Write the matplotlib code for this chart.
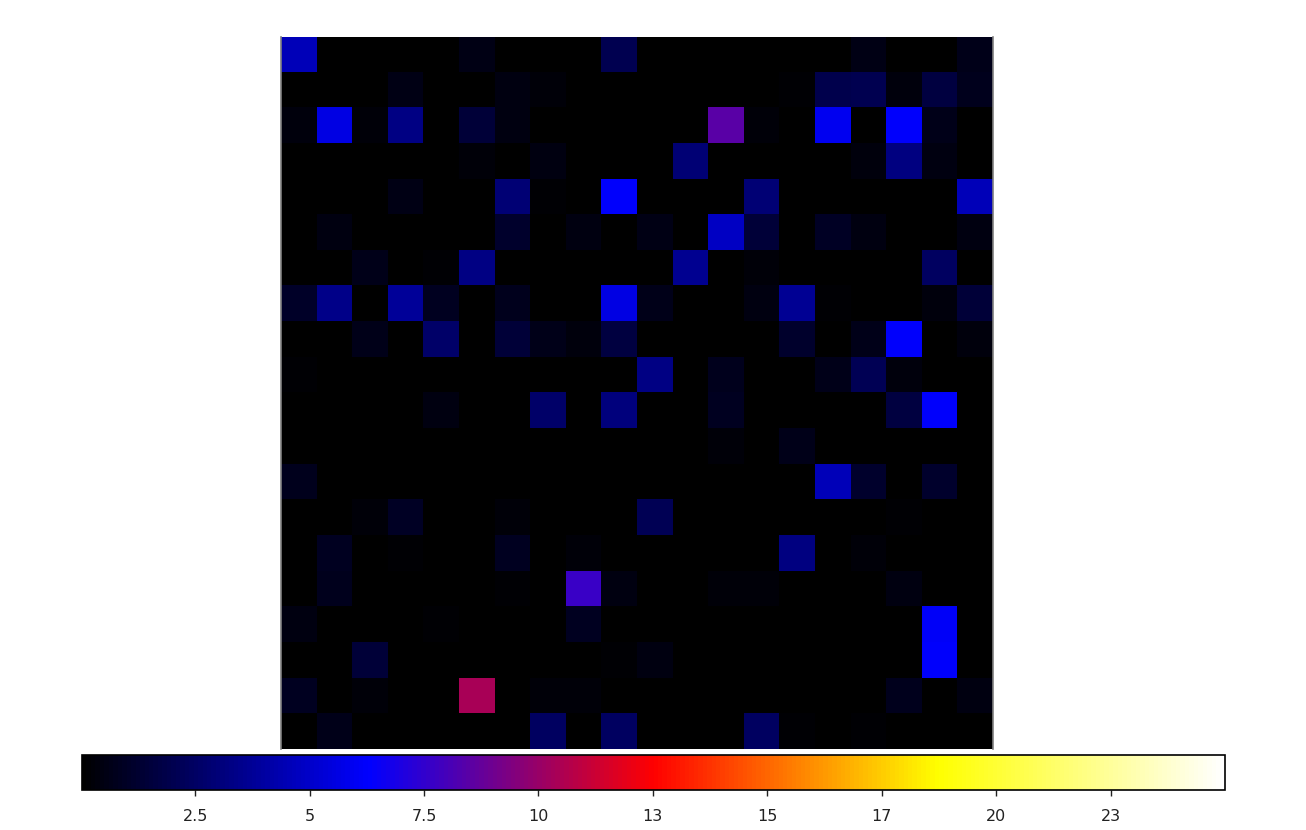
import matplotlib
matplotlib.use("Agg")
import matplotlib.pyplot as plt
from matplotlib.colors import LinearSegmentedColormap
import numpy as np

row_00 = [4.6,0,0,0,0,0.6,0,0,0,2.0,0,0,0,0,0,0,0.6,0,0,0.7]
row_01 = [0,0.1,0,0.55,0,0,0.5,0.25,0,0,0,0,0,0,0.2,1.9,2.0,0.35,1.6,0.8]
row_02 = [0.35,5.6,0.3,3.3,0,1.4,0.5,0,0,0,0,0,8.45,0.3,0,5.9,0.1,6.2,0.7,0]
row_03 = [0,0,0,0,0,0.25,0,0.45,0,0,0,2.9,0,0,0,0,0.35,3.2,0.45,0]
row_04 = [0,0.05,0.1,0.6,0,0,2.9,0.2,0,6.25,0,0,0,2.9,0,0,0,0,0,4.6]
row_05 = [0,0.45,0,0,0,0,1.2,0,0.45,0,0.6,0,4.9,1.4,0,1.0,0.5,0,0,0.5]
row_06 = [0,0,0.7,0,0.2,3.3,0,0,0,0,0,3.6,0.1,0.25,0.1,0,0,0,2.4,0]
row_07 = [1.1,3.4,0,3.8,0.9,0,0.8,0,0,5.6,0.7,0,0,0.45,3.7,0.2,0,0,0.35,1.4]
row_08 = [0,0,0.7,0,2.6,0,1.4,0.7,0.35,1.6,0,0,0,0,1.2,0,0.7,6.25,0,0.35]
row_09 = [0.2,0,0,0,0,0,0,0,0,0,3.3,0,0.8,0,0,0.7,2.1,0.35,0,0]
row_10 = [0,0,0,0,0.45,0,0,2.6,0,3.1,0,0,0.9,0,0,0,0,1.6,6.25,0]
row_11 = [0,0,0,0,0,0,0,0,0,0,0,0,0.25,0,0.7,0,0,0,0,0]
row_12 = [0.8,0,0,0,0,0,0,0.1,0,0,0,0,0,0,0,4.6,1.2,0,1.2,0]
row_13 = [0.1,0,0.3,1.0,0,0,0.25,0,0,0,2.1,0,0,0.1,0,0,0,0.2,0,0]
row_14 = [0,0.9,0,0.2,0,0,0.9,0.1,0.3,0,0,0,0,0,3.2,0,0.3,0,0,0.1]
row_15 = [0,0.8,0,0,0,0,0.15,0,7.7,0.5,0,0,0.3,0.3,0,0,0,0.45,0,0]
row_16 = [0.5,0,0,0,0.2,0,0,0,0.9,0,0,0,0,0,0,0,0,0,6.1,0]
row_17 = [0,0,1.4,0,0,0,0,0,0,0.2,0.45,0,0,0,0,0,0,0,6.2,0]
row_18 = [0.9,0,0.25,0,0,10.4,0,0.25,0.25,0,0,0,0,0,0,0,0,0.8,0.1,0.45]
row_19 = [0,0.7,0,0,0.1,0,0,2.4,0,2.4,0,0,0,2.4,0.15,0,0.15,0,0,0]

rows = [row_00,row_01,row_02,row_03,row_04,row_05,row_06,row_07,row_08,row_09,
        row_10,row_11,row_12,row_13,row_14,row_15,row_16,row_17,row_18,row_19]
tick_values = [2.5,5,7.5,10,12.5,15,17.5,20,22.5]
tick_labels = ["2.5","5","7.5","10","13","15","17","20","23"]

W, H = 1306, 830
fig = plt.figure(figsize=(W/100, H/100), dpi=100)
cmap = LinearSegmentedColormap.from_list("bbryw", ["black","blue","red","yellow","white"], N=256)

ax = fig.add_axes([281/W, 1-749/H, 712/W, 712/H])
im = ax.imshow(np.array(rows), cmap=cmap, vmin=0.03, vmax=25, interpolation="nearest", aspect="auto")
ax.set_xticks([]); ax.set_yticks([])
ax.spines["top"].set_visible(False)
ax.spines["bottom"].set_visible(False)
for side in ["left", "right"]:
    ax.spines[side].set_linewidth(1.2)
    ax.spines[side].set_color("#808080")

cax = fig.add_axes([82/W, 1-790/H, 1143/W, 35/H])
cb = fig.colorbar(im, cax=cax, orientation="horizontal")
cb.set_ticks(tick_values)
cb.set_ticklabels(tick_labels)
cb.ax.tick_params(length=4, width=1, pad=10, labelsize=11.5, colors="#222222", which="major")
cb.ax.minorticks_off()
cb.outline.set_linewidth(1.2)
fig.savefig("out.png", dpi=100)
